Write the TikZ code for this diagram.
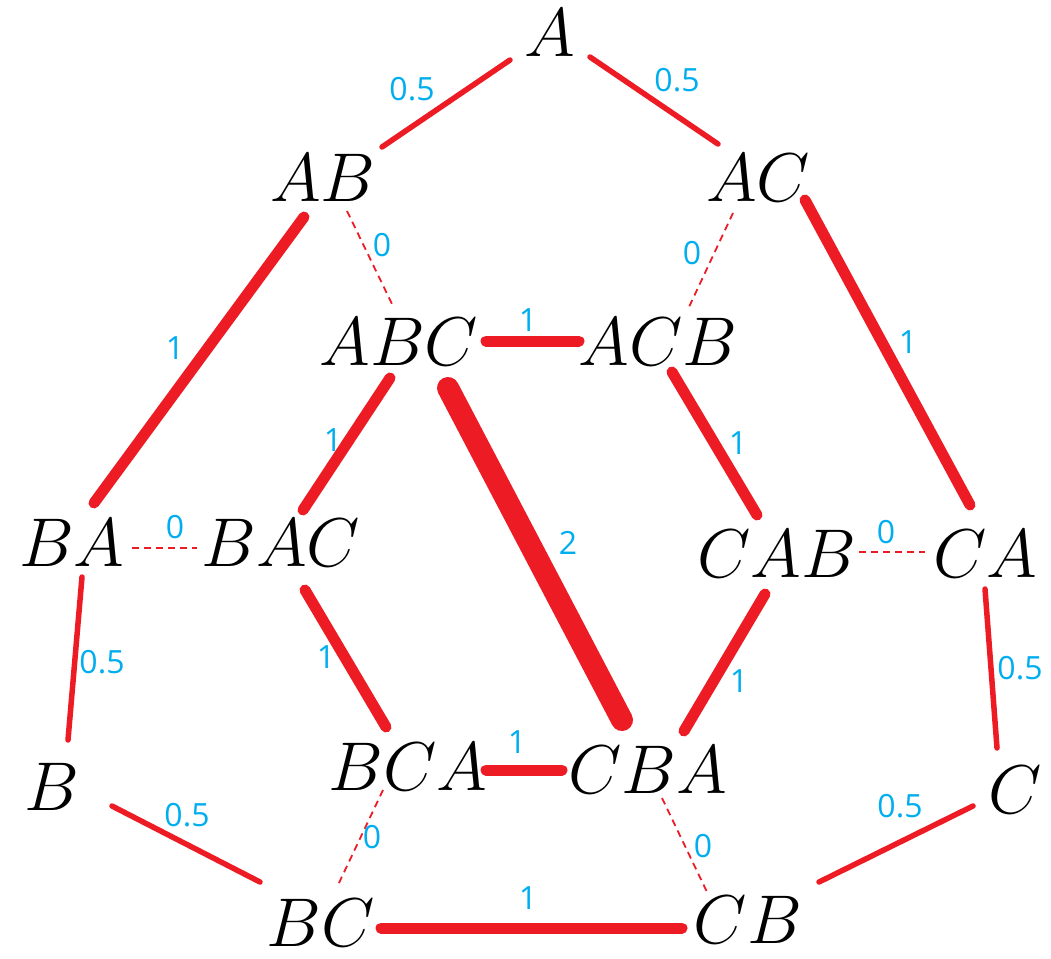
\documentclass[tikz,border=0pt]{standalone}
\usepackage{fontspec}
\newfontfamily\labelfont{Open Sans}
\definecolor{edgered}{RGB}{237,28,36}
\definecolor{lblblue}{RGB}{0,174,239}
\tikzset{
  state/.style={inner sep=0pt,font=\Huge,scale=2.773},
  weight/.style={draw=edgered,line width=#1*11pt,line cap=round},
  zero/.style={draw=edgered,line width=1.8pt,dash pattern=on 7pt off 5pt},
  lbl/.style={text=lblblue,inner sep=0pt,font=\labelfont\fontsize{32}{34}\selectfont}
}

\begin{document}
\begin{tikzpicture}[x=1pt,y=-1pt]
  \useasboundingbox (0,0) rectangle (1051,958);

  % orders
  \node[state] (A)   at (550,33)  {$A$};
  \node[state] (AB)  at (323,178) {$AB$};
  \node[state] (AC)  at (758,178) {$AC$};
  \node[state] (ABC) at (399,342) {$ABC$};
  \node[state] (ACB) at (658,342) {$ACB$};
  \node[state] (BA)  at (72,543)  {$BA$};
  \node[state] (BAC) at (281,543) {$BAC$};
  \node[state] (CAB) at (777,554) {$CAB$};
  \node[state] (CA)  at (985,554) {$CA$};
  \node[state] (BCA) at (408,767) {$BCA$};
  \node[state] (CBA) at (648,770) {$CBA$};
  \node[state] (B)   at (52,787)  {$B$};
  \node[state] (C)   at (1015,790) {$C$};
  \node[state] (BC)  at (321,923) {$BC$};
  \node[state] (CB)  at (748,920) {$CB$};

  % connectors
  \draw[weight=0.5] ([shift={(59,-31)}]AB.center) -- ([shift={(-40,27)}]A.center);
  \draw[weight=0.5] ([shift={(40,24)}]A.center) -- ([shift={(-40,-34)}]AC.center);
  \draw[zero] ([shift={(24,33)}]AB.center) -- ([shift={(-6,-36)}]ABC.center);
  \draw[zero] ([shift={(-25,35)}]AC.center) -- ([shift={(31,-35)}]ACB.center);
  \draw[weight=1] ([shift={(-19,39)}]AB.center) -- ([shift={(22,-40)}]BA.center);
  \draw[weight=1] ([shift={(47,22)}]AC.center) -- ([shift={(-15,-49)}]CA.center);
  \draw[weight=1] ([shift={(87,-1)}]ABC.center) -- ([shift={(-79,-1)}]ACB.center);
  \draw[weight=1] ([shift={(-9,36)}]ABC.center) -- ([shift={(22,-33)}]BAC.center);
  \draw[weight=2] ([shift={(49,46)}]ABC.center) -- ([shift={(-26,-50)}]CBA.center);
  \draw[weight=1] ([shift={(14,30)}]ACB.center) -- ([shift={(-20,-39)}]CAB.center);
  \draw[zero] ([shift={(60,5)}]BA.center) -- ([shift={(-84,5)}]BAC.center);
  \draw[zero] ([shift={(82,-2)}]CAB.center) -- ([shift={(-60,-2)}]CA.center);
  \draw[weight=0.5] ([shift={(10,34)}]BA.center) -- ([shift={(16,-47)}]B.center);
  \draw[weight=0.5] ([shift={(0,35)}]CA.center) -- ([shift={(-18,-42)}]C.center);
  \draw[weight=1] ([shift={(24,47)}]BAC.center) -- ([shift={(-22,-40)}]BCA.center);
  \draw[weight=1] ([shift={(-12,40)}]CAB.center) -- ([shift={(36,-39)}]CBA.center);
  \draw[weight=1] ([shift={(78,3)}]BCA.center) -- ([shift={(-86,0)}]CBA.center);
  \draw[zero] ([shift={(-25,23)}]BCA.center) -- ([shift={(17,-38)}]BC.center);
  \draw[zero] ([shift={(14,28)}]CBA.center) -- ([shift={(-41,-28)}]CB.center);
  \draw[weight=0.5] ([shift={(60,19)}]B.center) -- ([shift={(-61,-41)}]BC.center);
  \draw[weight=0.5] ([shift={(-42,16)}]C.center) -- ([shift={(71,-38)}]CB.center);
  \draw[weight=1] ([shift={(60,5)}]BC.center) -- ([shift={(-66,8)}]CB.center);

  % weights
  \node[lbl] (wAAB)   at (412,89)  {0.5};
  \node[lbl] (wAAC)   at (677,80)  {0.5};
  \node[lbl] (wABx)   at (382,245) {0};
  \node[lbl] (wACx)   at (692,253) {0};
  \node[lbl] (wABBA)  at (175,348) {1};
  \node[lbl] (wACCA)  at (908,342) {1};
  \node[lbl] (wtop)   at (528,320) {1};
  \node[lbl] (wABCl)  at (333,440) {1};
  \node[lbl] (wmain)  at (568,543) {2};
  \node[lbl] (wACBr)  at (738,443) {1};
  \node[lbl] (wBAx)   at (175,527) {0};
  \node[lbl] (wCAx)   at (886,532) {0};
  \node[lbl] (wBAB)   at (102,662) {0.5};
  \node[lbl] (wCAC)   at (1020,668) {0.5};
  \node[lbl] (wBACl)  at (326,657) {1};
  \node[lbl] (wCABr)  at (739,681) {1};
  \node[lbl] (wmid)   at (517,742) {1};
  \node[lbl] (wBCAx)  at (372,837) {0};
  \node[lbl] (wCBAx)  at (703,846) {0};
  \node[lbl] (wBBC)   at (187,815) {0.5};
  \node[lbl] (wCCB)   at (900,806) {0.5};
  \node[lbl] (wbot)   at (528,898) {1};
\end{tikzpicture}
\end{document}
